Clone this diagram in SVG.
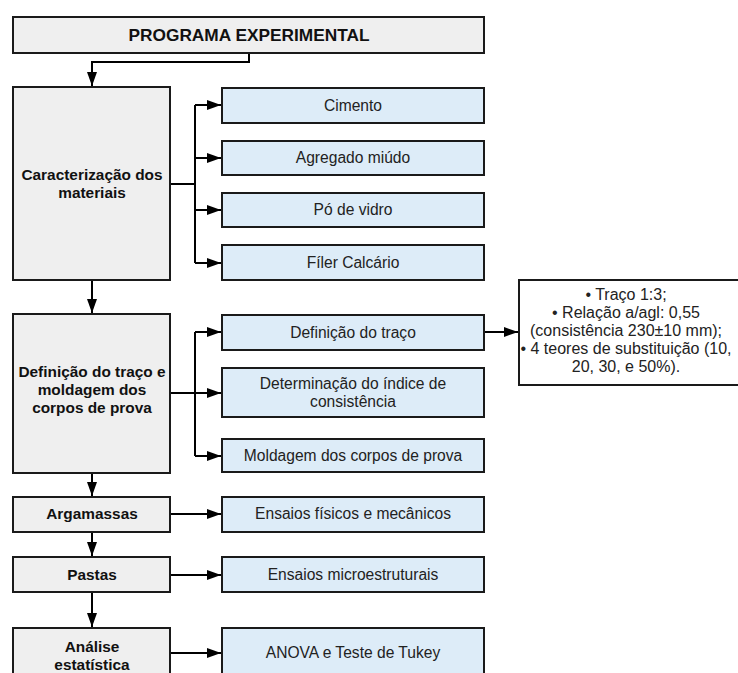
<svg xmlns="http://www.w3.org/2000/svg" width="738" height="673" viewBox="0 0 738 673">
<defs>
<marker id="ah" markerUnits="userSpaceOnUse" markerWidth="14" markerHeight="10" refX="14" refY="5" orient="auto">
<path d="M0,0 L14,5 L0,10 Z" fill="#000"/>
</marker>
<style>
.g{fill:#efefef;stroke:#1a1a1a;stroke-width:2}
.b{fill:#ddecf8;stroke:#1a1a1a;stroke-width:2}
.w{fill:#fff;stroke:#1a1a1a;stroke-width:2}
.tb{font-family:"Liberation Sans",Arial,sans-serif;font-weight:bold;font-size:15.4px;fill:#111;text-anchor:middle}
.tr{font-family:"Liberation Sans",Arial,sans-serif;font-size:15.6px;fill:#222;text-anchor:middle}
.tn{font-family:"Liberation Sans",Arial,sans-serif;font-size:16px;fill:#222;text-anchor:middle}
.c{fill:none;stroke:#000;stroke-width:2}
</style>
</defs>
<rect width="738" height="673" fill="#fff"/>
<g id="connectors">
<path class="c" d="M249,53 V62 H92 V86" marker-end="url(#ah)"/>
<path class="c" d="M170,184 H195"/>
<path class="c" d="M195,105 V263"/>
<path class="c" d="M195,105 H221" marker-end="url(#ah)"/>
<path class="c" d="M195,158 H221" marker-end="url(#ah)"/>
<path class="c" d="M195,210 H221" marker-end="url(#ah)"/>
<path class="c" d="M195,263 H221" marker-end="url(#ah)"/>
<path class="c" d="M92,280 V313" marker-end="url(#ah)"/>
<path class="c" d="M170,393 H221" marker-end="url(#ah)"/>
<path class="c" d="M195,332 V456"/>
<path class="c" d="M195,332 H221" marker-end="url(#ah)"/>
<path class="c" d="M195,456 H221" marker-end="url(#ah)"/>
<path class="c" d="M484,332 H518" marker-end="url(#ah)"/>
<path class="c" d="M92,473 V496" marker-end="url(#ah)"/>
<path class="c" d="M170,514 H221" marker-end="url(#ah)"/>
<path class="c" d="M92,532 V556" marker-end="url(#ah)"/>
<path class="c" d="M170,575 H221" marker-end="url(#ah)"/>
<path class="c" d="M92,592 V627" marker-end="url(#ah)"/>
<path class="c" d="M170,653 H221" marker-end="url(#ah)"/>
</g>
<g id="title">
<rect class="g" x="13" y="17" width="471" height="36"/>
<text class="tb" x="249" y="41" style="font-size:17.3px">PROGRAMA EXPERIMENTAL</text>
</g>
<g id="caracterizacao">
<rect class="g" x="13" y="87" width="157" height="193"/>
<text class="tb" x="92" y="180">Caracterização dos</text>
<text class="tb" x="92" y="198">materiais</text>
</g>
<g id="cimento">
<rect class="b" x="222" y="88" width="262" height="35"/>
<text class="tr" x="353" y="111">Cimento</text>
</g>
<g id="agregado">
<rect class="b" x="222" y="141" width="262" height="34"/>
<text class="tr" x="353" y="163">Agregado miúdo</text>
</g>
<g id="po">
<rect class="b" x="222" y="193" width="262" height="34"/>
<text class="tr" x="353" y="215">Pó de vidro</text>
</g>
<g id="filer">
<rect class="b" x="222" y="245" width="262" height="35"/>
<text class="tr" x="353" y="268">Fíler Calcário</text>
</g>
<g id="definicao">
<rect class="g" x="13" y="314" width="157" height="159"/>
<text class="tb" x="92" y="377">Definição do traço e</text>
<text class="tb" x="92" y="395">moldagem dos</text>
<text class="tb" x="92" y="413">corpos de prova</text>
</g>
<g id="def-traco">
<rect class="b" x="222" y="315" width="262" height="35"/>
<text class="tr" x="353" y="338">Definição do traço</text>
</g>
<g id="determinacao">
<rect class="b" x="222" y="368" width="262" height="49"/>
<text class="tr" x="353" y="389">Determinação do índice de</text>
<text class="tr" x="353" y="407">consistência</text>
</g>
<g id="moldagem">
<rect class="b" x="222" y="439" width="262" height="33"/>
<text class="tr" x="353" y="461">Moldagem dos corpos de prova</text>
</g>
<g id="notas">
<rect class="w" x="519" y="280" width="230" height="105"/>
<text class="tn" x="626" y="300">• Traço 1:3;</text>
<text class="tn" x="626" y="318">• Relação a/agl: 0,55</text>
<text class="tn" x="626" y="336">(consistência 230±10 mm);</text>
<text class="tn" x="626" y="354">• 4 teores de substituição (10,</text>
<text class="tn" x="626" y="372">20, 30, e 50%).</text>
</g>
<g id="argamassas">
<rect class="g" x="13" y="497" width="157" height="35"/>
<text class="tb" x="92" y="519">Argamassas</text>
</g>
<g id="ensaios-fisicos">
<rect class="b" x="222" y="497" width="262" height="35"/>
<text class="tr" x="353" y="519">Ensaios físicos e mecânicos</text>
</g>
<g id="pastas">
<rect class="g" x="13" y="557" width="157" height="35"/>
<text class="tb" x="92" y="580">Pastas</text>
</g>
<g id="ensaios-micro">
<rect class="b" x="222" y="557" width="262" height="35"/>
<text class="tr" x="353" y="580">Ensaios microestruturais</text>
</g>
<g id="analise">
<rect class="g" x="13" y="628" width="157" height="60"/>
<text class="tb" x="92" y="652">Análise</text>
<text class="tb" x="92" y="670">estatística</text>
</g>
<g id="anova">
<rect class="b" x="222" y="628" width="262" height="60"/>
<text class="tr" x="353" y="658">ANOVA e Teste de Tukey</text>
</g>
</svg>
